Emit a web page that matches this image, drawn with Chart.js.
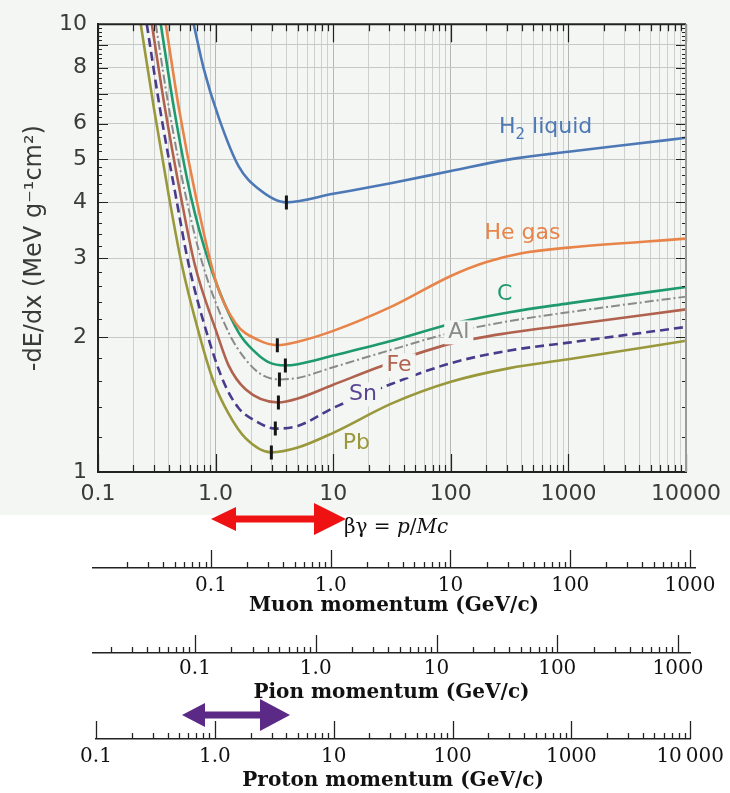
<!DOCTYPE html>
<html>
<head>
<meta charset="utf-8">
<title>Stopping power vs βγ</title>
<script src="https://cdn.jsdelivr.net/npm/chart.js@4.4.1/dist/chart.umd.min.js"></script>
<style>
  html, body { margin: 0; padding: 0; background: #ffffff; }
  #page { position: relative; width: 730px; height: 793px; overflow: hidden; background: #ffffff; }
  #upper { position: absolute; left: 0; top: 0; width: 730px; height: 515px; background: #f3f6f3; }
  canvas { position: absolute; left: 0; }
  #arrows { position: absolute; left: 0; top: 0; width: 730px; height: 793px; pointer-events: none; }
  #bgText { position: absolute; left: 344px; top: 514px; font: 20px "DejaVu Serif", serif; color: #111; white-space: nowrap; }
  #bgText i { font-style: italic; }
</style>
</head>
<body>
<div id="page">
  <div id="upper"></div>
  <canvas id="mainChart" width="730" height="515" style="top:0"></canvas>
  <canvas id="muonAxis" width="730" height="80" style="top:538px"></canvas>
  <canvas id="pionAxis" width="730" height="82" style="top:623px"></canvas>
  <canvas id="protonAxis" width="730" height="84" style="top:709px"></canvas>
  <div id="bgText">βγ = <i>p</i>/<i>Mc</i></div>
  <svg id="arrows" width="730" height="793"></svg>
</div>
<script>
// ---- mean energy loss curves: beta*gamma vs -dE/dx (MeV g^-1 cm^2) ----
const h2BetaGamma = [0.651, 0.791, 1.06, 1.567, 2.314, 4.0, 10, 31.6, 100, 316, 1000, 3160, 10000];
const h2Dedx      = [10, 7.97, 6.20, 4.82, 4.29, 4.00, 4.18, 4.42, 4.70, 4.99, 5.19, 5.38, 5.575];

const heBetaGamma = [0.377, 0.486, 0.677, 1.02, 1.478, 2.314, 3.353, 5, 10, 31.6, 100, 198, 400, 1000, 10000];
const heDedx      = [10, 6.52, 4.14, 2.63, 2.15, 1.97, 1.92, 1.954, 2.066, 2.343, 2.74, 2.94, 3.08, 3.17, 3.32];

const cBetaGamma = [0.342, 0.441, 0.614, 0.890, 1.567, 2.183, 2.813, 3.919, 5, 10, 31.6, 100, 316, 1000, 10000];
const cDedx      = [10, 6.52, 4.14, 2.91, 2.05, 1.85, 1.76, 1.73, 1.741, 1.82, 1.964, 2.14, 2.274, 2.38, 2.59];

const alBetaGamma = [0.310, 0.400, 0.557, 0.776, 1.289, 1.796, 2.454, 3.487, 5, 10, 31.6, 100, 316, 1000, 10000];
const alDedx      = [10, 6.52, 4.14, 2.91, 2.05, 1.785, 1.65, 1.61, 1.622, 1.714, 1.876, 2.046, 2.173, 2.274, 2.464];

const feBetaGamma = [0.287, 0.370, 0.505, 0.664, 1.020, 1.289, 1.796, 3.419, 5, 10, 31.6, 100, 316, 1000, 10000];
const feDedx      = [10, 6.52, 4.14, 2.91, 2.05, 1.73, 1.53, 1.43, 1.459, 1.566, 1.758, 1.935, 2.046, 2.13, 2.308];

const snBetaGamma = [0.260, 0.335, 0.458, 0.590, 0.839, 1.169, 1.567, 2.183, 3.225, 5, 10, 31.6, 100, 316, 1000, 10000];
const snDedx      = [10, 6.52, 4.14, 2.91, 2.05, 1.59, 1.39, 1.30, 1.25, 1.267, 1.39, 1.574, 1.75, 1.868, 1.945, 2.108];

const pbBetaGamma = [0.231, 0.298, 0.400, 0.515, 0.718, 0.962, 1.289, 1.796, 2.983, 5, 10, 31.6, 100, 316, 1000, 10000];
const pbDedx      = [10, 6.52, 4.14, 2.91, 2.05, 1.59, 1.35, 1.19, 1.106, 1.134, 1.223, 1.423, 1.59, 1.706, 1.785, 1.963];

// minimum-ionization markers (H2, He, C, Al, Fe, Sn, Pb)
const minBetaGamma = [4.0, 3.35, 3.92, 3.49, 3.42, 3.22, 2.98];
const minDedx      = [4.0, 1.92, 1.73, 1.61, 1.43, 1.25, 1.106];

// tick labels
const xTickValues = [0.1, 1, 10, 100, 1000, 10000];
const xTickLabels = ['0.1', '1.0', '10', '100', '1000', '10000'];
const yTickValues = [1, 2, 3, 4, 5, 6, 8, 10];
const yTickLabels = ['1', '2', '3', '4', '5', '6', '8', '10'];

const muonTickValues = [0.1, 1, 10, 100, 1000];
const muonTickLabels = ['0.1', '1.0', '10', '100', '1000'];
const pionTickValues = [0.1, 1, 10, 100, 1000];
const pionTickLabels = ['0.1', '1.0', '10', '100', '1000'];
const protonTickValues = [0.1, 1, 10, 100, 1000, 10000];
const protonTickLabels = ['0.1', '1.0', '10', '100', '1000', '10\u2009000'];

const plotBg = '#f3f6f3';
const sansFont = 'DejaVu Sans, Liberation Sans, sans-serif';
const serifFont = 'DejaVu Serif, Liberation Serif, serif';

function toPoints(xs, ys) {
  return xs.map((v, i) => ({ x: v, y: ys[i] }));
}

// 1..9 x 10^e for each decade, cleaned of float noise
function logTicks(min, max) {
  const out = [];
  for (let e = -3; e <= 4; e++) {
    for (let m = 1; m <= 9; m++) {
      const v = Number((m * Math.pow(10, e)).toPrecision(6));
      if (v >= min * 0.999 && v <= max * 1.001) out.push({ value: v, major: m === 1 });
    }
  }
  return out;
}

function curve(data, color, extra) {
  return Object.assign({
    data: data,
    borderColor: color,
    borderWidth: 2.6,
    pointRadius: 0,
    fill: false,
    cubicInterpolationMode: 'monotone'
  }, extra || {});
}

// labels written next to each curve
const curveLabels = [
  { parts: [{ t: 'H' }, { t: '2', sub: true }, { t: ' liquid' }], at: [640, 5.9], color: '#4d78b6' },
  { parts: [{ t: 'He gas' }], at: [407, 3.42], color: '#e8844a' },
  { parts: [{ t: 'C' }], at: [287, 2.5], color: '#1f9a6c' },
  { parts: [{ t: 'Al' }], at: [117, 2.05], color: '#8a8a8a', knockout: true },
  { parts: [{ t: 'Fe' }], at: [36.3, 1.73], color: '#b0624e', knockout: true },
  { parts: [{ t: 'Sn' }], at: [17.9, 1.49], color: '#5a4594', knockout: true },
  { parts: [{ t: 'Pb' }], at: [15.7, 1.157], color: '#9a983c' }
];

const curveLabelPlugin = {
  id: 'curveLabels',
  afterDatasetsDraw(chart) {
    const { ctx, scales: { x, y } } = chart;
    ctx.save();
    ctx.textBaseline = 'middle';
    ctx.textAlign = 'left';
    curveLabels.forEach(lab => {
      const cx = x.getPixelForValue(lab.at[0]);
      const cy = y.getPixelForValue(lab.at[1]);
      let w = 0;
      lab.parts.forEach(p => {
        ctx.font = (p.sub ? '15px ' : '22px ') + sansFont;
        p.w = ctx.measureText(p.t).width;
        w += p.w;
      });
      let px = cx - w / 2;
      if (lab.knockout) {
        ctx.fillStyle = plotBg;
        ctx.fillRect(px - 4, cy - 12, w + 8, 24);
      }
      ctx.fillStyle = lab.color;
      lab.parts.forEach(p => {
        ctx.font = (p.sub ? '15px ' : '22px ') + sansFont;
        ctx.fillText(p.t, px, p.sub ? cy + 8 : cy);
        px += p.w;
      });
    });
    ctx.restore();
  }
};

// frame on top/right plus inward tick marks on all four sides
const framePlugin = {
  id: 'frame',
  afterDraw(chart) {
    const { ctx, chartArea: a, scales: { x, y } } = chart;
    ctx.save();
    ctx.strokeStyle = '#222';
    ctx.lineWidth = 1.2;
    ctx.beginPath();
    x.ticks.forEach(t => {
      const px = Math.round(x.getPixelForValue(t.value)) + 0.5;
      const len = t.major ? 18 : 7;
      ctx.moveTo(px, a.bottom); ctx.lineTo(px, a.bottom - len);
      ctx.moveTo(px, a.top); ctx.lineTo(px, a.top + len);
    });
    for (let v = 1; v <= 10.001; v += 0.2) {
      const py = Math.round(y.getPixelForValue(v)) + 0.5;
      const isInt = Math.abs(v - Math.round(v)) < 1e-6;
      const len = isInt ? 10 : 4;
      ctx.moveTo(a.left, py); ctx.lineTo(a.left + len, py);
      ctx.moveTo(a.right, py); ctx.lineTo(a.right - len, py);
    }
    ctx.stroke();
    ctx.lineWidth = 2;
    ctx.beginPath();
    ctx.moveTo(a.left, a.top); ctx.lineTo(a.right, a.top);
    ctx.stroke();
    ctx.strokeStyle = '#9a9a9a';
    ctx.beginPath();
    ctx.moveTo(a.right, a.top); ctx.lineTo(a.right, a.bottom);
    ctx.stroke();
    ctx.restore();
  }
};

new Chart(document.getElementById('mainChart'), {
  type: 'line',
  data: {
    datasets: [
      {
        data: toPoints(minBetaGamma, minDedx),
        showLine: false,
        pointStyle: 'line',
        rotation: 90,
        pointRadius: 7,
        pointBorderWidth: 3,
        pointBorderColor: '#151515',
        pointBackgroundColor: '#151515'
      },
      curve(toPoints(h2BetaGamma, h2Dedx), '#4d78b6'),
      curve(toPoints(heBetaGamma, heDedx), '#e8844a'),
      curve(toPoints(cBetaGamma, cDedx), '#1f9a6c'),
      curve(toPoints(alBetaGamma, alDedx), '#8a8a8a', { borderDash: [9, 3, 2, 3], borderWidth: 2 }),
      curve(toPoints(feBetaGamma, feDedx), '#b0624e'),
      curve(toPoints(snBetaGamma, snDedx), '#4a3a8c', { borderDash: [9, 5] }),
      curve(toPoints(pbBetaGamma, pbDedx), '#9a983c')
    ]
  },
  options: {
    responsive: false,
    animation: false,
    events: [],
    layout: { padding: { top: 15, right: 42, left: 0, bottom: 0 } },
    plugins: { legend: { display: false }, tooltip: { enabled: false } },
    scales: {
      x: {
        type: 'logarithmic',
        min: 0.1,
        max: 10000,
        afterBuildTicks: s => { s.ticks = logTicks(0.1, 10000); },
        afterFit: s => { s.height = 43; },
        ticks: {
          autoSkip: false,
          maxRotation: 0,
          padding: 9,
          color: '#3a3a3a',
          font: { family: sansFont, size: 22 },
          callback: v => {
            const i = xTickValues.indexOf(v);
            return i >= 0 ? xTickLabels[i] : '';
          }
        },
        grid: {
          drawTicks: false,
          color: c => (c.tick && c.tick.major ? '#b4b7b4' : '#cdd0cd'),
          lineWidth: 1
        },
        border: { color: '#222', width: 2 }
      },
      y: {
        type: 'logarithmic',
        min: 1,
        max: 10,
        afterBuildTicks: s => { s.ticks = logTicks(1, 10); },
        afterFit: s => { s.width = 98; },
        ticks: {
          autoSkip: false,
          padding: 11,
          color: '#3a3a3a',
          font: { family: sansFont, size: 22 },
          callback: v => {
            const i = yTickValues.indexOf(v);
            return i >= 0 ? yTickLabels[i] : '';
          }
        },
        grid: { drawTicks: false, color: '#c6c9c6', lineWidth: 1 },
        border: { color: '#222', width: 2 },
        title: {
          display: true,
          text: '-dE/dx (MeV g\u207B\u00B9cm\u00B2)',
          color: '#3a3a3a',
          font: { family: sansFont, size: 24 },
          padding: { top: 20, bottom: 0 }
        }
      }
    }
  },
  plugins: [curveLabelPlugin, framePlugin]
});

// ---- momentum scales for muons, pions and protons ----
const upTicksPlugin = {
  id: 'upTicks',
  afterDraw(chart) {
    const { ctx, scales: { x } } = chart;
    ctx.save();
    ctx.strokeStyle = '#222';
    ctx.lineWidth = 1.3;
    ctx.beginPath();
    x.ticks.forEach(t => {
      const px = Math.round(x.getPixelForValue(t.value)) + 0.5;
      const len = t.major ? 18 : 6;
      ctx.moveTo(px, x.top); ctx.lineTo(px, x.top - len);
    });
    ctx.stroke();
    ctx.restore();
  }
};

function momentumAxis(id, spec) {
  const canvas = document.getElementById(id);
  return new Chart(canvas, {
    type: 'line',
    data: { datasets: [] },
    options: {
      responsive: false,
      animation: false,
      events: [],
      layout: { padding: { left: spec.left, right: 730 - spec.right, top: 0, bottom: 0 } },
      plugins: { legend: { display: false }, tooltip: { enabled: false } },
      scales: {
        x: {
          type: 'logarithmic',
          min: spec.min,
          max: spec.max,
          afterBuildTicks: s => { s.ticks = logTicks(spec.firstTick, spec.max); },
          afterFit: s => { s.height = canvas.height - 30; },
          ticks: {
            autoSkip: false,
            maxRotation: 0,
            padding: spec.labelPad,
            color: '#111',
            font: { family: serifFont, size: 20 },
            callback: v => {
              const i = spec.values.indexOf(v);
              return i >= 0 ? spec.labels[i] : '';
            }
          },
          grid: { drawOnChartArea: false, drawTicks: false, color: 'rgba(0,0,0,0)' },
          border: { display: true, color: '#222', width: 1.5 },
          title: {
            display: true,
            text: spec.title,
            color: '#111',
            font: { family: serifFont, size: 20, weight: 'bold' },
            padding: { top: 0, bottom: 0 }
          }
        },
        y: { display: false }
      }
    },
    plugins: [upTicksPlugin]
  });
}

momentumAxis('muonAxis', {
  left: 93, right: 695, min: 0.010343, max: 1101, firstTick: 0.02,
  values: muonTickValues, labels: muonTickLabels, labelPad: 6,
  title: 'Muon momentum (GeV/c)'
});
momentumAxis('pionAxis', {
  left: 93, right: 690, min: 0.014295, max: 1257, firstTick: 0.02,
  values: pionTickValues, labels: pionTickLabels, labelPad: 4,
  title: 'Pion momentum (GeV/c)'
});
momentumAxis('protonAxis', {
  left: 96, right: 697, min: 0.1, max: 10000, firstTick: 0.1,
  values: protonTickValues, labels: protonTickLabels, labelPad: 6,
  title: 'Proton momentum (GeV/c)'
});

// ---- double-headed arrows marking the minimum-ionizing region ----
function doubleArrow(svg, x1, x2, cy, shaft, headL, headR, color) {
  const s = shaft / 2;
  const pts = [
    [x1, cy], [x1 + headL.len, cy - headL.half], [x1 + headL.len, cy - s],
    [x2 - headR.len, cy - s], [x2 - headR.len, cy - headR.half], [x2, cy],
    [x2 - headR.len, cy + headR.half], [x2 - headR.len, cy + s],
    [x1 + headL.len, cy + s], [x1 + headL.len, cy + headL.half]
  ];
  const poly = document.createElementNS('http://www.w3.org/2000/svg', 'polygon');
  poly.setAttribute('points', pts.map(p => p.join(',')).join(' '));
  poly.setAttribute('fill', color);
  svg.appendChild(poly);
}

const svg = document.getElementById('arrows');
doubleArrow(svg, 211, 346, 519, 7, { len: 25, half: 12 }, { len: 32, half: 16 }, '#ee1212');
doubleArrow(svg, 182, 290, 715, 7, { len: 23, half: 12 }, { len: 30, half: 16 }, '#5a2a86');
</script>
</body>
</html>
